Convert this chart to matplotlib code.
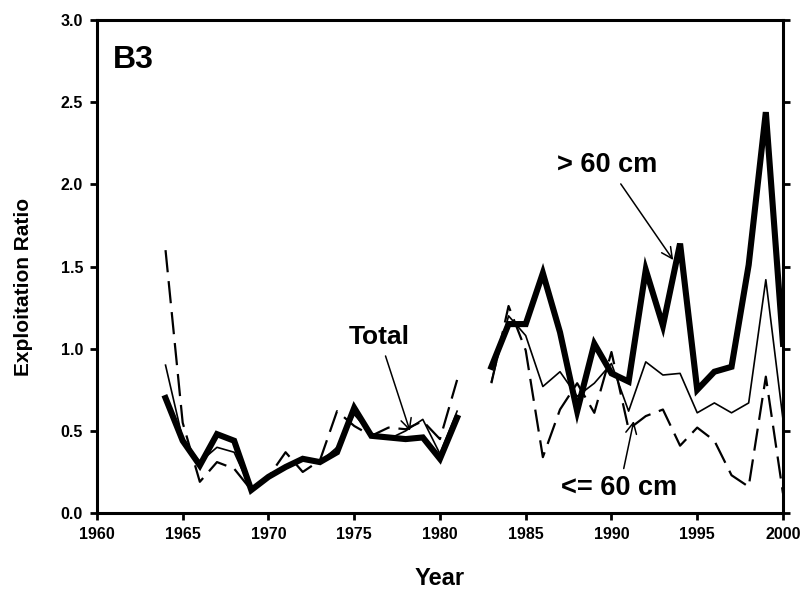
import numpy as np
import matplotlib
matplotlib.use('Agg')
import matplotlib.pyplot as plt

plt.rcParams['font.family'] = ['Liberation Sans', 'DejaVu Sans']
plt.rcParams['font.weight'] = 'bold'

nan = np.nan
years = list(range(1964, 2001))

# > 60 cm (thick line)
big = [0.70, 0.44, 0.29, 0.48, 0.44, 0.14, 0.22, 0.28, 0.33, 0.31, 0.37, 0.64,
       0.47, 0.46, 0.45, 0.46, 0.33, 0.58, nan,
       0.89, 1.15, 1.15, 1.46, 1.10, 0.62, 1.03, 0.85, 0.80, 1.48, 1.14, 1.64,
       0.75, 0.86, 0.89, 1.51, 2.44, 1.03]
# Total (thin line)
total = [0.90, 0.45, 0.31, 0.40, 0.37, 0.14, 0.22, 0.29, 0.32, 0.31, 0.40, 0.60,
         0.48, 0.45, 0.50, 0.57, 0.36, 0.62, nan,
         0.80, 1.20, 1.08, 0.77, 0.86, 0.71, 0.79, 0.91, 0.62, 0.92, 0.84, 0.85,
         0.61, 0.67, 0.61, 0.67, 1.42, 0.57]
# <= 60 cm (dashed line)
small = [1.60, 0.55, 0.19, 0.31, 0.27, 0.14, 0.22, 0.37, 0.25, 0.32, 0.62, 0.53,
         0.47, 0.52, 0.51, 0.56, 0.45, 0.81, nan,
         0.79, 1.26, 0.99, 0.34, 0.63, 0.79, 0.61, 0.98, 0.51, 0.59, 0.63, 0.41,
         0.52, 0.44, 0.23, 0.16, 0.83, 0.12]

fig = plt.figure(figsize=(8.01, 5.92), dpi=100)
ax = fig.add_axes([0.121, 0.1334, 0.8565, 0.8326])

ax.plot(years, small, color='black', lw=1.6, dashes=(10, 4))
ax.plot(years, total, color='black', lw=1.2)
ax.plot(years, big, color='black', lw=4.4, solid_joinstyle='miter')

ax.set_xlim(1960, 2000)
ax.set_ylim(0, 3.0)
ax.set_xticks(range(1960, 2001, 5))
ax.set_yticks(np.arange(0, 3.01, 0.5))
ax.set_yticklabels(['%.1f' % v for v in np.arange(0, 3.01, 0.5)])

for s in ax.spines.values():
    s.set_linewidth(2.2)
ax.tick_params(axis='both', width=2, length=5, labelsize=11.5, direction='out')
ax.tick_params(axis='y', right=True, pad=5)
ax.tick_params(axis='x', pad=5)
for lab in ax.get_xticklabels() + ax.get_yticklabels():
    lab.set_fontweight('bold')

ax.set_xlabel('Year', fontsize=17, fontweight='bold', labelpad=18)
ax.set_ylabel('Exploitation Ratio', fontsize=15, fontweight='bold')
ax.yaxis.set_label_coords(-0.093, 0.458)

ax.text(1960.95, 2.76, 'B3', fontsize=23, fontweight='bold', va='center', ha='left')

arrow = dict(arrowstyle='->', color='black', lw=1.1, shrinkA=3, shrinkB=0)
ax.annotate('Total', xy=(1978.25, 0.50), xytext=(1976.47, 1.07),
            fontsize=19, fontweight='bold', ha='center', va='center',
            arrowprops=arrow)
ax.annotate('> 60 cm', xy=(1993.6, 1.54), xytext=(1989.77, 2.12),
            fontsize=19.5, fontweight='bold', ha='center', va='center',
            arrowprops=arrow)
ax.annotate('<= 60 cm', xy=(1991.3, 0.56), xytext=(1990.47, 0.15),
            fontsize=19.5, fontweight='bold', ha='center', va='center',
            arrowprops=arrow)

fig.savefig('out.png', dpi=100)
